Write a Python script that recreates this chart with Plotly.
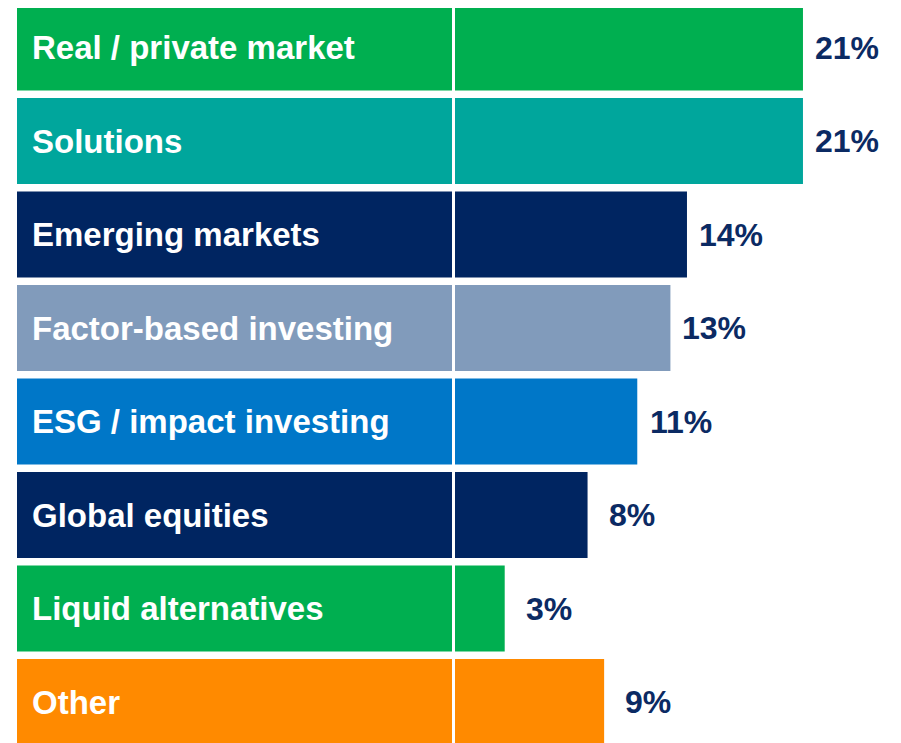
import plotly.graph_objects as go

categories = ["Real / private market", "Solutions", "Emerging markets", "Factor-based investing",
              "ESG / impact investing", "Global equities", "Liquid alternatives", "Other"]
values = [21, 21, 14, 13, 11, 8, 3, 9]
value_labels = ["21%", "21%", "14%", "13%", "11%", "8%", "3%", "9%"]
colors = ["#00AF50", "#00A69C", "#002561", "#819BBB", "#0077C8", "#002561", "#00AF50", "#FF8A00"]

W, H = 901, 743
off = 8  # page body margin
navy = "#0B2A63"
font = "Liberation Sans, Arial, sans-serif"

fig = go.Figure()

# label boxes on the left
fig.add_trace(go.Bar(
    y=categories, x=[1] * len(categories), orientation="h",
    marker=dict(color=colors, line=dict(width=0)),
    width=0.92, xaxis="x", yaxis="y", hoverinfo="skip", showlegend=False))

# value bars on the right
fig.add_trace(go.Bar(
    y=categories, x=values, orientation="h",
    marker=dict(color=colors, line=dict(width=0)),
    width=0.92, xaxis="x2", yaxis="y", showlegend=False))

annotations = []
for cat in categories:
    annotations.append(dict(
        x=0, y=cat, xref="x", yref="y", xshift=13, xanchor="left", yanchor="middle",
        text="<b>%s</b>" % cat, showarrow=False,
        font=dict(family=font, size=33, color="white")))
for cat, v, lab in zip(categories, values, value_labels):
    annotations.append(dict(
        x=v, y=cat, xref="x2", yref="y", xshift=44, xanchor="center", yanchor="middle",
        text="<b>%s</b>" % lab, showarrow=False,
        font=dict(family=font, size=32, color=navy)))

pitch = 93.5
top_center = 47.5 - off
fig.update_layout(
    width=W, height=H,
    margin=dict(l=0, r=0, t=0, b=0),
    paper_bgcolor="white", plot_bgcolor="white",
    xaxis=dict(domain=[(17 - off) / W, (452 - off) / W], range=[0, 1], visible=False, fixedrange=True),
    xaxis2=dict(domain=[(455 - off) / W, 1], range=[0, (W - 455 + off) / 16.57], anchor="y",
                visible=False, fixedrange=True),
    yaxis=dict(type="category", categoryorder="array", categoryarray=categories,
               range=[(H - top_center) / pitch, -top_center / pitch],
               visible=False, fixedrange=True),
    annotations=annotations,
)

fig.write_html("out.html")
